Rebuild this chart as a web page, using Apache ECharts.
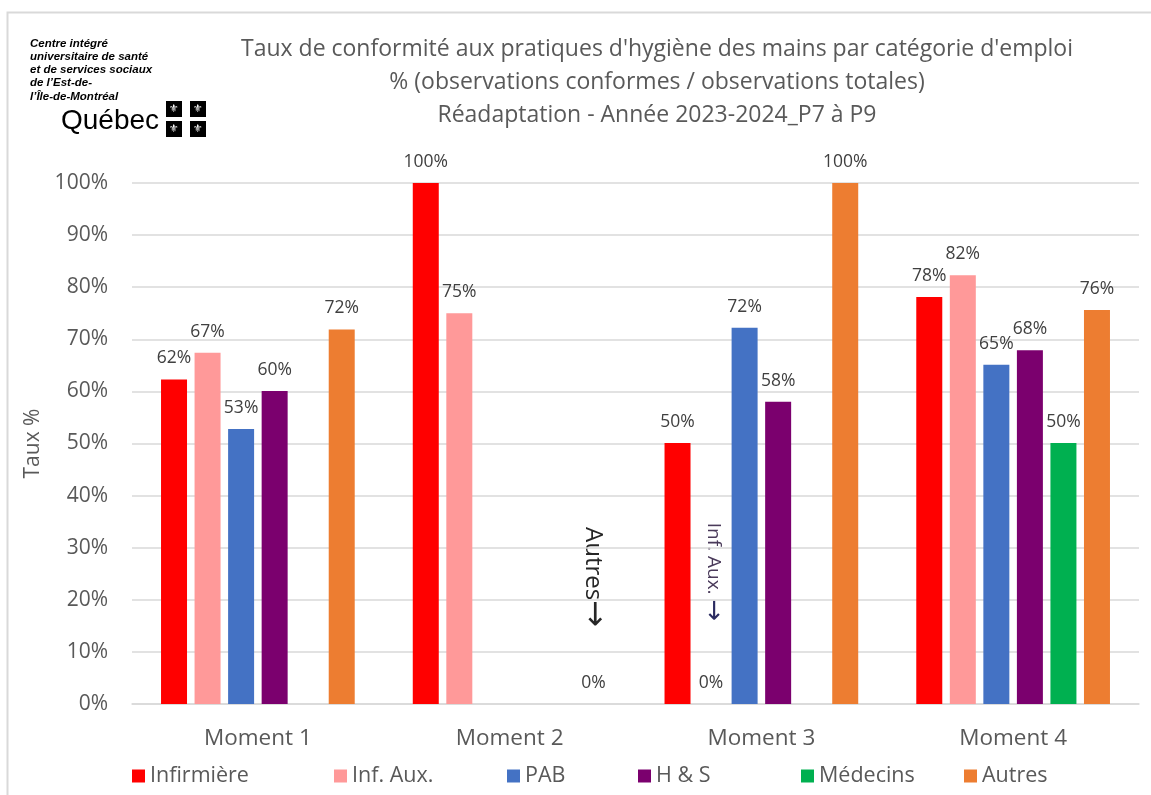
<!DOCTYPE html>
<html>
<head>
<meta charset="utf-8">
<script src="https://cdn.jsdelivr.net/npm/echarts@6/dist/echarts.min.js"></script>
<style>
  html, body { margin: 0; padding: 0; background: #fff; }
  #main { width: 1151px; height: 795px; }
</style>
</head>
<body>
<div id="main"></div>
<script>
// categories et valeurs (en %)
var moments = ['Moment 1', 'Moment 2', 'Moment 3', 'Moment 4'];
var infirmiere = [62.3, 100, 50.1, 78.1];
var infAux     = [67.4, 75, 0, 82.3];
var pab        = [52.8, null, 72.2, 65.1];
var hs         = [60.1, null, 58.0, 67.9];
var medecins   = [null, null, null, 50.1];
var autres     = [71.9, 0, 100, 75.6];
var yTicks = [0, 10, 20, 30, 40, 50, 60, 70, 80, 90, 100];

var FONT = "'Open Sans', sans-serif";
var seriesDefs = [
  {name: 'Infirmière', data: infirmiere, color: '#FF0000'},
  {name: 'Inf. Aux.', data: infAux, color: '#FF9999'},
  {name: 'PAB', data: pab, color: '#4472C4'},
  {name: 'H & S', data: hs, color: '#7B006E'},
  {name: 'Médecins', data: medecins, color: '#00B050'},
  {name: 'Autres', data: autres, color: '#ED7D31'}
];
var legendLeft = [127, 329, 502, 633, 796, 959];

var chart = echarts.init(document.getElementById('main'));

var option = {
  animation: false,
  textStyle: {fontFamily: FONT},
  title: {
    text: "Taux de conformité aux pratiques d'hygiène des mains par catégorie d'emploi\n% (observations conformes / observations totales)\nRéadaptation - Année 2023-2024_P7 à P9",
    left: 652, top: 28, textAlign: 'center',
    textStyle: {fontFamily: FONT, fontSize: 23, fontWeight: 'normal', color: '#595959', lineHeight: 33}
  },
  legend: seriesDefs.map(function (s, i) {
    return {
      data: [s.name], left: legendLeft[i], top: 760,
      itemWidth: 13, itemHeight: 13, icon: 'rect', itemGap: 5,
      textStyle: {fontFamily: FONT, fontSize: 21.5, color: '#595959'}
    };
  }),
  grid: {left: 132, right: 12, top: 183, bottom: 91, containLabel: false},
  xAxis: {
    type: 'category', data: moments,
    axisLine: {lineStyle: {color: '#d9d9d9', width: 1.5}},
    axisTick: {show: false},
    axisLabel: {fontFamily: FONT, fontSize: 22.5, color: '#595959', margin: 23}
  },
  yAxis: {
    type: 'value', min: 0, max: 100, interval: 10,
    name: 'Taux %', nameLocation: 'middle', nameRotate: 90, nameGap: 87,
    nameTextStyle: {fontFamily: FONT, fontSize: 21, color: '#595959'},
    axisLine: {show: false}, axisTick: {show: false},
    axisLabel: {fontFamily: FONT, fontSize: 21, color: '#595959', margin: 24,
      formatter: function (v) { return yTicks.indexOf(v) >= 0 ? v + '%' : ''; }},
    splitLine: {lineStyle: {color: '#d9d9d9', width: 1.5}}
  },
  series: seriesDefs.map(function (s) {
    return {
      name: s.name, type: 'bar', data: s.data,
      barWidth: 26, barGap: '29%',
      itemStyle: {color: s.color},
      label: {
        show: true, position: 'top', distance: 12,
        fontFamily: FONT, fontSize: 17.5, color: '#404040',
        formatter: function (p) { return Math.round(p.value) + '%'; }
      }
    };
  }),
  graphic: [
    {type: 'rect', left: 5, top: 10, shape: {width: 1300, height: 1000},
      style: {fill: 'none', stroke: '#d9d9d9', lineWidth: 2}, silent: true},
    {type: 'text', left: 30, top: 37,
      style: {text: "Centre intégré\nuniversitaire de santé\net de services sociaux\nde l’Est-de-\nl’Île-de-Montréal",
        font: "italic bold 11.5px 'Liberation Sans', sans-serif", fill: '#000', lineHeight: 13.2}},
    {type: 'text', left: 61, top: 107,
      style: {text: 'Québec', font: "28px 'Liberation Sans', sans-serif", fill: '#000'}},
    {type: 'group', left: 166, top: 101, children: [
      {type: 'rect', x: 0, y: 0, shape: {width: 16, height: 16}, style: {fill: '#000'}},
      {type: 'rect', x: 24, y: 0, shape: {width: 16, height: 16}, style: {fill: '#000'}},
      {type: 'rect', x: 0, y: 20, shape: {width: 16, height: 16}, style: {fill: '#000'}},
      {type: 'rect', x: 24, y: 20, shape: {width: 16, height: 16}, style: {fill: '#000'}},
      {type: 'text', x: 8, y: 8, style: {text: '⚜', font: "11px 'DejaVu Sans'", fill: '#fff', align: 'center', verticalAlign: 'middle'}},
      {type: 'text', x: 32, y: 8, style: {text: '⚜', font: "11px 'DejaVu Sans'", fill: '#fff', align: 'center', verticalAlign: 'middle'}},
      {type: 'text', x: 8, y: 28, style: {text: '⚜', font: "11px 'DejaVu Sans'", fill: '#fff', align: 'center', verticalAlign: 'middle'}},
      {type: 'text', x: 32, y: 28, style: {text: '⚜', font: "11px 'DejaVu Sans'", fill: '#fff', align: 'center', verticalAlign: 'middle'}}
    ]},
    // annotations verticales
    {type: 'text', x: 593, y: 577, rotation: -Math.PI / 2,
      style: {
        text: '{t|Autres}{a|→}', align: 'center', verticalAlign: 'middle',
        rich: {
          t: {fontFamily: FONT, fontSize: 24, fill: '#262626', color: '#262626'},
          a: {fontFamily: 'DejaVu Sans', fontSize: 32, fill: '#262626', color: '#262626'}
        }
      }},
    {type: 'text', x: 713, y: 572, rotation: -Math.PI / 2,
      style: {
        text: '{t|Inf. Aux. }{a|→}', align: 'center', verticalAlign: 'middle',
        rich: {
          t: {fontFamily: FONT, fontSize: 19, fill: '#4a3a5a', color: '#4a3a5a'},
          a: {fontFamily: 'DejaVu Sans', fontSize: 26, fill: '#2a2a60', color: '#2a2a60'}
        }
      }}
  ]
};
chart.setOption(option);
</script>
</body>
</html>
